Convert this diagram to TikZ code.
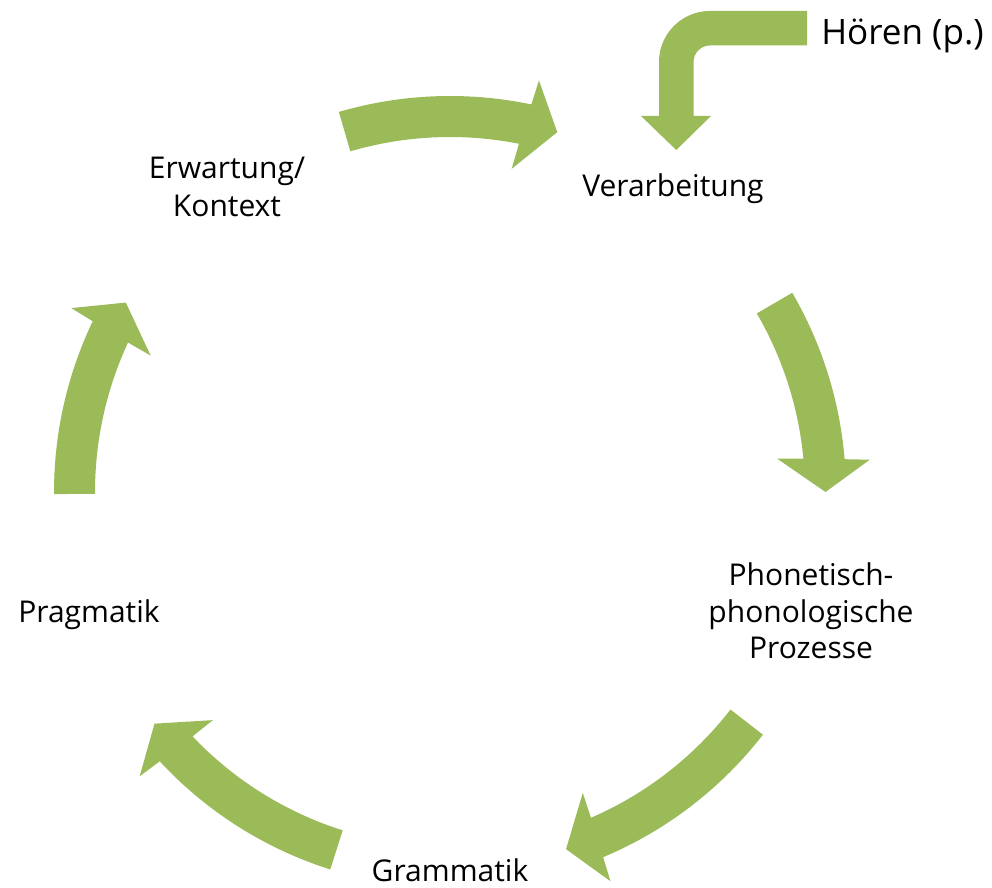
\documentclass[tikz,border=0pt]{standalone}
\usepackage{fontspec}
\setmainfont{Open Sans}
\usetikzlibrary{calc}
\definecolor{olivegreen}{HTML}{9BBB59}
\newcommand{\cyclearr}[3]{% #1 name, #2 tail angle, #3 tip angle
  \fill[arrowfill] ($(C)+(#2:396)$) coordinate (#1-tail)
    arc[start angle=#2, end angle=#3+4.75, radius=396]
    -- ($(C)+(#3+4.4:421)$)
    -- ($(C)+(#3:375.5)$) coordinate (#1-tip)
    -- ($(C)+(#3+5.8:329)$)
    -- ($(C)+(#3+5.4:355)$)
    arc[start angle=#3+5.4, end angle=#2, radius=355]
    -- cycle;}
\begin{document}
\begin{tikzpicture}[x=0.75pt,y=0.75pt,
  arrowfill/.style={fill=olivegreen},
  label/.style={anchor=base,inner sep=0pt,font=\fontsize{22.5}{27}\selectfont,text=black}]
\useasboundingbox (0,0) rectangle (992,888);
\coordinate (C) at (450,396);
% labels
\node[label] (erw1) at (227,709) {Erwartung/};
\node[label] (erw2) at (227,671) {Kontext};
\node[label] (verarb) at (673,691) {Verarbeitung};
\node[label] (phon1) at (811,302) {Phonetisch-};
\node[label] (phon2) at (811,265.5) {phonologische};
\node[label] (phon3) at (811,229) {Prozesse};
\node[label] (gram) at (450,6.3) {Grammatik};
\node[label] (prag) at (89,265.3) {Pragmatik};
\node[anchor=base west,inner sep=0pt,font=\fontsize{26.3}{30}\selectfont] (hoeren) at (821,843) {Hören (p.)};
% cycle arrows
\cyclearr{a1}{106.3}{73.4}
\cyclearr{a2}{30.2}{0}
\cyclearr{a3}{-37.8}{-72.0}
\cyclearr{a4}{-107.6}{-141.9}
\cyclearr{a5}{-179.7}{-210.3}
% bent arrow from Hören
\fill[arrowfill] (807,877) -- (710,877) arc[start angle=90, end angle=180, radius=51]
  -- (659,772) -- (641,772) -- (676.25,738) -- (711,772) -- (693.5,772)
  -- (693.5,826) arc[start angle=180, end angle=90, radius=16.5]
  -- (807,842.5) -- cycle;
\end{tikzpicture}
\end{document}
